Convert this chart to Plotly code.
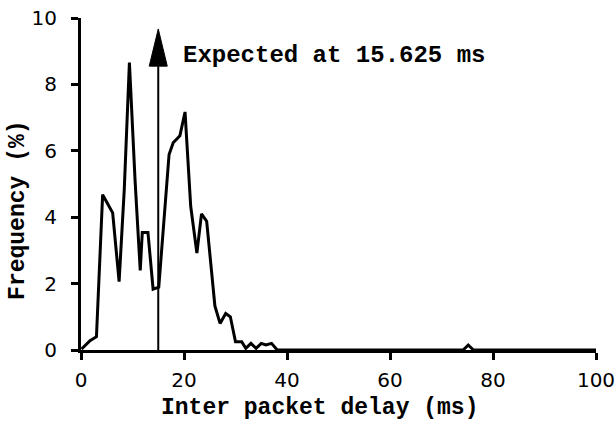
import plotly.graph_objects as go

# Inter packet delay (ms) and frequency (%)
delay_ms = [0.1, 1.75, 3.0, 4.2, 5.2, 6.15, 7.4, 8.4, 9.4, 10.5, 11.5, 11.9, 13.0, 14.0, 15.1,
            16.1, 17.1, 17.9, 19.2, 20.2, 21.3, 22.5, 23.4, 24.4, 25.2, 26.0, 27.0, 28.1, 29.0,
            30.0, 31.2, 32.0, 33.0, 34.0, 35.0, 35.9, 37.0, 38.1, 74.2, 75.2, 76.2, 100.0]
frequency = [0.03, 0.28, 0.4, 4.68, 4.4, 4.13, 2.06, 4.83, 8.66, 5.1, 2.4, 3.54, 3.54, 1.83, 1.89,
             3.9, 5.89, 6.24, 6.45, 7.17, 4.33, 2.92, 4.1, 3.88, 2.5, 1.33, 0.8, 1.1, 1.0,
             0.25, 0.25, 0.05, 0.2, 0.05, 0.2, 0.15, 0.2, 0.0, 0.0, 0.15, 0.0, 0.0]

x_ticks = [0, 20, 40, 60, 80, 100]
y_ticks = [0, 2, 4, 6, 8, 10]

x_title = "Inter packet delay (ms)"
y_title = "Frequency (%)"
annotation_text = "Expected at 15.625 ms"
expected_x = 15.0
arrow_tip = 9.67
arrow_head_base = 8.55
arrow_half_width = 1.75

mono = "Courier New, Liberation Mono, monospace"
sans = "DejaVu Sans, Verdana, sans-serif"

fig = go.Figure()
fig.add_trace(go.Scatter(x=delay_ms, y=frequency, mode="lines",
                         line=dict(color="black", width=3), hoverinfo="skip",
                         showlegend=False, cliponaxis=False))

# arrow shaft and head
fig.add_shape(type="line", x0=expected_x, x1=expected_x, y0=0, y1=arrow_head_base,
              line=dict(color="black", width=2), layer="above")
fig.add_shape(type="path",
              path=f"M {expected_x - arrow_half_width},{arrow_head_base} L {expected_x},{arrow_tip} "
                   f"L {expected_x + arrow_half_width},{arrow_head_base} Z",
              fillcolor="black", line=dict(color="black", width=1), layer="above")

fig.add_annotation(x=19.4, y=8.87, text="<b>" + annotation_text + "</b>", showarrow=False,
                   xanchor="left", yanchor="middle",
                   font=dict(family=mono, size=24, color="black"))

# axis titles
fig.add_annotation(xref="paper", yref="paper", x=0.464, y=0, yshift=-58,
                   text="<b>" + x_title + "</b>", showarrow=False,
                   xanchor="center", yanchor="middle",
                   font=dict(family=mono, size=23, color="black"))
fig.add_annotation(xref="paper", yref="paper", x=0, xshift=-63, y=0.419,
                   text="<b>" + y_title + "</b>", showarrow=False, textangle=-90,
                   xanchor="center", yanchor="middle",
                   font=dict(family=mono, size=23, color="black"))

fig.update_xaxes(range=[0, 100], tickvals=x_ticks, ticktext=[str(v) for v in x_ticks],
                 showline=True, linecolor="black", linewidth=3, ticks="outside",
                 ticklen=7, tickwidth=3, tickcolor="black", showgrid=False, zeroline=False,
                 ticklabelstandoff=3,
                 tickfont=dict(family=sans, size=20, color="black"))
fig.update_yaxes(range=[0, 10], tickvals=y_ticks, ticktext=[str(v) for v in y_ticks],
                 showline=True, linecolor="black", linewidth=3, ticks="outside",
                 ticklen=7, tickwidth=3, tickcolor="black", showgrid=False, zeroline=False,
                 ticklabelstandoff=10,
                 tickfont=dict(family=sans, size=20, color="black"))

fig.update_layout(width=616, height=421, margin=dict(l=81, r=20, t=18, b=71, autoexpand=False),
                  plot_bgcolor="white", paper_bgcolor="white")

fig.write_html("out.html", config={"displayModeBar": False},
               post_script="document.body.style.margin='0';")
